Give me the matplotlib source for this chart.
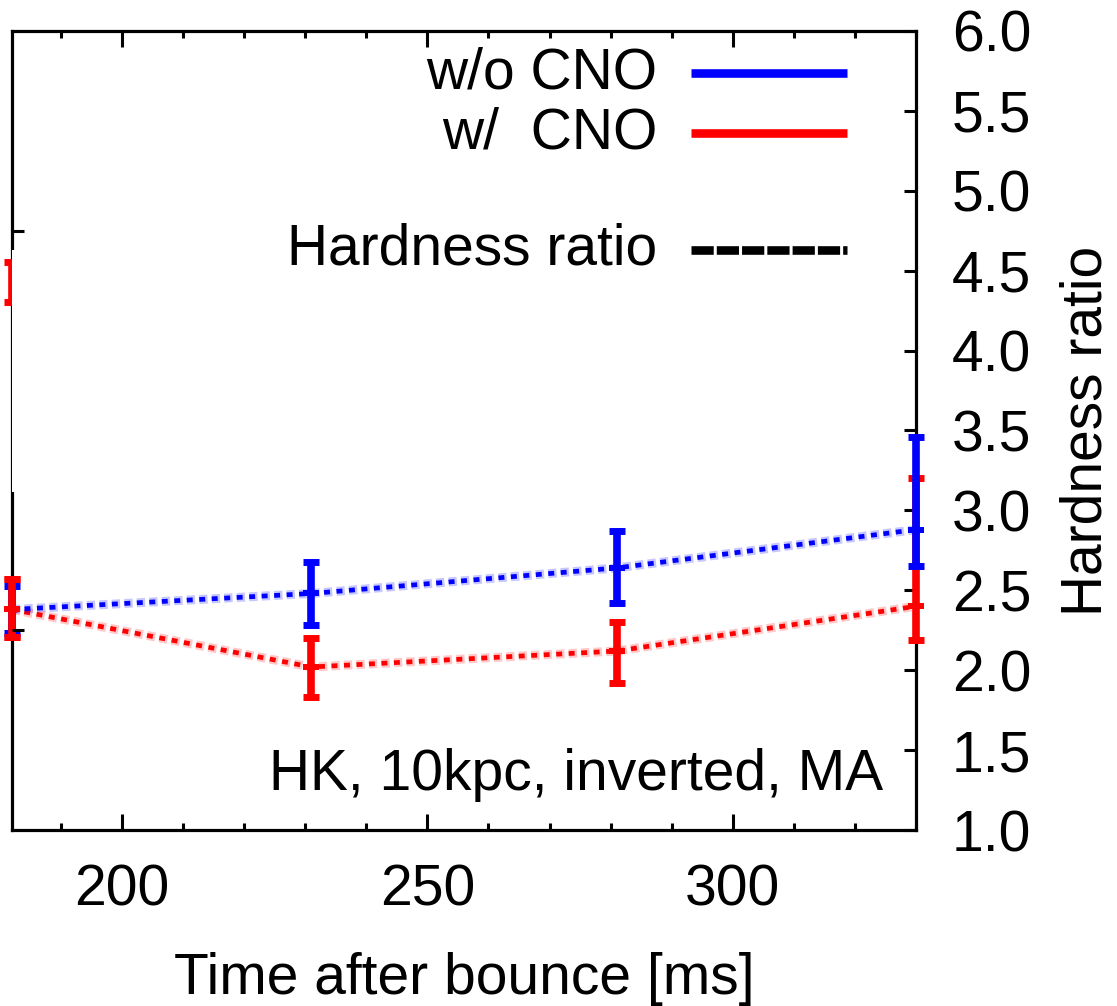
import matplotlib
matplotlib.use("Agg")
import matplotlib.pyplot as plt
from matplotlib.patches import Rectangle
from matplotlib.ticker import MultipleLocator

plt.rcParams["font.family"] = ["Liberation Sans", "DejaVu Sans"]
plt.rcParams["lines.scale_dashes"] = False

BLUE = "#0000ff"
RED = "#ff0000"

# data
time_ms = [182, 231, 281, 330]
ratio_wo = [2.38, 2.48, 2.64, 2.88]
err_wo_lo = [0.15, 0.20, 0.22, 0.23]
err_wo_hi = [0.15, 0.20, 0.23, 0.58]
ratio_w = [2.38, 2.02, 2.12, 2.40]
err_w_lo = [0.17, 0.19, 0.20, 0.21]
err_w_hi = [0.19, 0.18, 0.18, 0.80]
# stray red bar cut by the left edge
edge_t = [182]
edge_r = [4.43]
edge_err = [0.125]

FS = 41
EB = dict(fmt="none", elinewidth=5.5, capsize=6, capthick=5, clip_on=False)

fig = plt.figure(figsize=(11.17, 10.06), dpi=100)
ax = fig.add_axes([12 / 1117, 1 - 830 / 1006, 904 / 1117, 799 / 1006])

# unlabeled ticks on the left frame (other panel's scale)
tw = ax.twinx()
tw.set_ylim(0, 4)
tw.set_yticks([1, 3])
tw.yaxis.tick_left()
tw.tick_params(axis="y", direction="in", length=8.5, width=2.2, labelleft=False)
for s in tw.spines.values():
    s.set_visible(False)

ax.set_xlim(182, 330)
ax.set_ylim(1.0, 6.0)


def series(y, lo, hi, color, z):
    # light halo then the dashed core line
    ax.plot(time_ms, y, color=color, lw=6.5, alpha=0.22, dashes=(6, 3), zorder=z)
    ax.plot(time_ms, y, color=color, lw=3.4, dashes=(4.3, 4.7), zorder=z + 0.1)
    ax.errorbar(time_ms, y, yerr=[lo, hi], ecolor=color, zorder=z + 0.2, **EB)
    ax.plot(time_ms, y, ls="none", marker="P", ms=12, color=color,
            mew=0, clip_on=False, zorder=z + 0.3)


series(ratio_w, err_w_lo, err_w_hi, RED, 3)
series(ratio_wo, err_wo_lo, err_wo_hi, BLUE, 4)
# left point: red on top of blue
ax.errorbar(time_ms[:1], ratio_w[:1], yerr=[err_w_lo[:1], err_w_hi[:1]],
            ecolor=RED, zorder=5, **EB)
ax.plot(time_ms[:1], ratio_w[:1], ls="none", marker="P", ms=12, color=RED,
        mew=0, clip_on=False, zorder=5.1)
ax.errorbar(edge_t, edge_r, yerr=edge_err, ecolor=RED, zorder=5, **EB)

# white strip over the left frame (composite artefact)
ax.add_patch(Rectangle((0.0005, 0.423), 0.016, 0.303, transform=ax.transAxes,
                       facecolor="white", edgecolor="none", clip_on=False, zorder=6))

# frame and ticks
for s in ax.spines.values():
    s.set_linewidth(2.3)
ax.xaxis.set_major_locator(MultipleLocator(50))
ax.xaxis.set_minor_locator(MultipleLocator(10))
ax.yaxis.tick_right()
ax.yaxis.set_label_position("right")
ax.tick_params(axis="x", which="both", direction="in", top=True, bottom=True,
               width=2.2, labelsize=FS, pad=24)
ax.tick_params(axis="x", which="major", length=11.5)
ax.tick_params(axis="x", which="minor", length=5)
ax.tick_params(axis="y", which="major", direction="in", right=True, left=False,
               length=8.5, width=2.2, labelsize=FS, pad=26)
ax.set_yticks([1.0 + 0.5 * i for i in range(11)])
ax.set_yticklabels([f"{v:.1f}" for v in ax.get_yticks()])

ax.set_xlabel("Time after bounce [ms]", fontsize=FS, labelpad=25)
ax.set_ylabel("Hardness ratio", fontsize=FS, rotation=90)
ax.yaxis.set_label_coords(1.159, 0.5)

# key (text left, line right)
keys = [("w/o CNO", 0.947, dict(color=BLUE)),
        ("w/  CNO", 0.872, dict(color=RED)),
        ("Hardness ratio", 0.726, dict(color="black", dashes=(16, 2.2)))]
for label, ky, style in keys:
    ax.text(0.7135, ky, label, transform=ax.transAxes, ha="right", va="center",
            fontsize=FS)
    ax.plot([0.7511, 0.9237], [ky, ky], transform=ax.transAxes, lw=6.2,
            solid_capstyle="butt", dash_capstyle="butt", **style)

ax.text(0.9635, 0.0688, "HK, 10kpc, inverted, MA", transform=ax.transAxes,
        ha="right", va="center", fontsize=FS)

fig.savefig("out.png", dpi=100)
